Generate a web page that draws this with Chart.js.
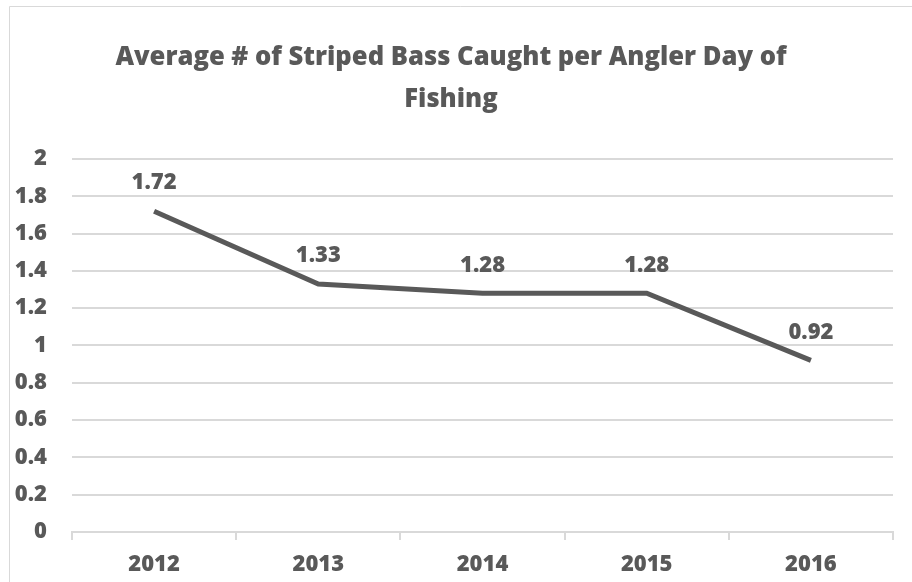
<!DOCTYPE html>
<html>
<head>
<meta charset="utf-8">
<script src="https://cdn.jsdelivr.net/npm/chart.js@4/dist/chart.umd.min.js"></script>
<style>
html,body{margin:0;padding:0;background:#fff;}
#wrap{width:912px;height:582px;position:relative;}
</style>
</head>
<body>
<div id="wrap"><canvas id="c" width="912" height="582"></canvas></div>
<script>
const categories = ["2012", "2013", "2014", "2015", "2016"];
const avgCatch = [1.72, 1.33, 1.28, 1.28, 0.92];
const titleLines = ["Average # of Striped Bass Caught per Angler Day of", "Fishing"];
const yMin = 0, yMax = 2, yStep = 0.2;

const TEXT = "#595959";
const GRID = "#d9d9d9";
const FONT = "'Open Sans'";
const W = "800";

const borderPlugin = {
  id: "outerBorder",
  beforeDraw(chart) {
    const ctx = chart.ctx;
    ctx.save();
    ctx.fillStyle = "#fff";
    ctx.fillRect(0, 0, chart.width, chart.height);
    ctx.strokeStyle = GRID;
    ctx.lineWidth = 1;
    ctx.beginPath();
    ctx.moveTo(9.5, chart.height);
    ctx.lineTo(9.5, 6.5);
    ctx.lineTo(chart.width, 6.5);
    ctx.stroke();
    ctx.restore();
  }
};

const labelPlugin = {
  id: "valueLabels",
  afterDatasetsDraw(chart) {
    const ctx = chart.ctx;
    const meta = chart.getDatasetMeta(0);
    ctx.save();
    ctx.font = W + " 22px " + FONT;
    ctx.fillStyle = TEXT;
    ctx.textAlign = "center";
    ctx.textBaseline = "bottom";
    meta.data.forEach((pt, i) => {
      const v = chart.data.datasets[0].data[i];
      ctx.fillText(v.toFixed(2), pt.x, pt.y - 17);
    });
    ctx.restore();
  }
};

new Chart(document.getElementById("c"), {
  type: "line",
  data: {
    labels: categories,
    datasets: [{
      data: avgCatch,
      borderColor: TEXT,
      borderWidth: 5,
      pointRadius: 0,
      pointHoverRadius: 0,
      tension: 0,
      fill: false
    }]
  },
  options: {
    responsive: false,
    animation: false,
    events: [],
    layout: { padding: { left: 9, right: 19, top: 0, bottom: 0 } },
    plugins: {
      legend: { display: false },
      tooltip: { enabled: false },
      title: {
        display: true,
        text: titleLines,
        color: TEXT,
        font: { family: FONT, size: 25.6, weight: W, lineHeight: 1.66 },
        padding: { top: 36, bottom: 38 }
      }
    },
    scales: {
      x: {
        offset: true,
        grid: {
          offset: true,
          drawOnChartArea: false,
          drawTicks: true,
          tickLength: 8,
          color: GRID,
          lineWidth: 2
        },
        border: { display: true, color: GRID, width: 2 },
        ticks: {
          color: TEXT,
          padding: 12,
          maxRotation: 0,
          font: { family: FONT, size: 22, weight: W }
        },
        afterFit(scale) { scale.height = 50; }
      },
      y: {
        min: yMin,
        max: yMax,
        grid: { color: GRID, lineWidth: 2, drawTicks: false },
        border: { display: false },
        ticks: {
          stepSize: yStep,
          color: TEXT,
          padding: 25,
          font: { family: FONT, size: 22, weight: W },
          callback: v => String(Math.round(v * 10) / 10)
        },
        afterFit(scale) { scale.width = 63; }
      }
    }
  },
  plugins: [borderPlugin, labelPlugin]
});
</script>
</body>
</html>
